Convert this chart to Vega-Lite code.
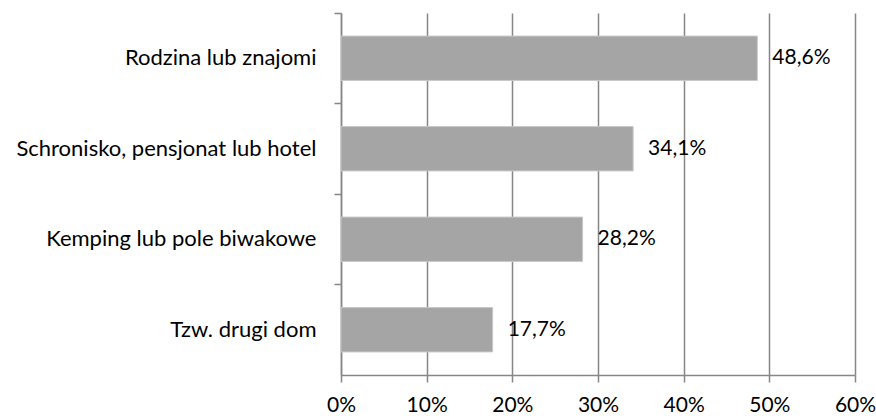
{
  "$schema": "https://vega.github.io/schema/vega-lite/v6.json",
  "autosize": {"type": "none"},
  "padding": {"left": 341, "top": 13, "right": 21, "bottom": 41},
  "width": 514,
  "height": 362,
  "background": "white",
  "config": {
    "view": {"stroke": null},
    "font": "Lato",
    "axis": {"labelFont": "Lato", "labelColor": "#000000"}
  },
  "data": {
    "values": [
      {"kategoria": "Rodzina lub znajomi", "wartosc": 48.6, "etykieta": "48,6%"},
      {"kategoria": "Schronisko, pensjonat lub hotel", "wartosc": 34.1, "etykieta": "34,1%"},
      {"kategoria": "Kemping lub pole biwakowe", "wartosc": 28.2, "etykieta": "28,2%"},
      {"kategoria": "Tzw. drugi dom", "wartosc": 17.7, "etykieta": "17,7%"}
    ]
  },
  "encoding": {
    "y": {
      "field": "kategoria",
      "type": "nominal",
      "sort": null,
      "scale": {"paddingInner": 0, "paddingOuter": 0},
      "axis": {
        "title": null,
        "bandPosition": 0,
        "domainColor": "#868686",
        "domainWidth": 1.5,
        "tickColor": "#868686",
        "tickWidth": 1.5,
        "tickSize": 7,
        "labelFontSize": 22,
        "labelPadding": 18,
        "labelLimit": 400,
        "grid": false
      }
    },
    "x": {
      "field": "wartosc",
      "type": "quantitative",
      "scale": {"domain": [0, 60], "nice": false},
      "axis": {
        "title": null,
        "values": [0, 10, 20, 30, 40, 50, 60],
        "labelExpr": "datum.value + '%'",
        "domainColor": "#868686",
        "domainWidth": 1.5,
        "tickColor": "#868686",
        "tickWidth": 1.5,
        "tickSize": 7,
        "gridColor": "#868686",
        "gridWidth": 1.5,
        "labelFontSize": 21,
        "labelPadding": 12,
        "labelFlush": false
      }
    }
  },
  "layer": [
    {
      "mark": {"type": "bar", "height": {"band": 0.49}, "color": "#a5a5a5", "stroke": "#c8c8c8", "strokeWidth": 1},
      "encoding": {}
    },
    {
      "mark": {"type": "text", "align": "left", "baseline": "middle", "dx": 15, "fontSize": 21, "font": "Lato", "color": "#000000"},
      "encoding": {"text": {"field": "etykieta"}}
    }
  ]
}
